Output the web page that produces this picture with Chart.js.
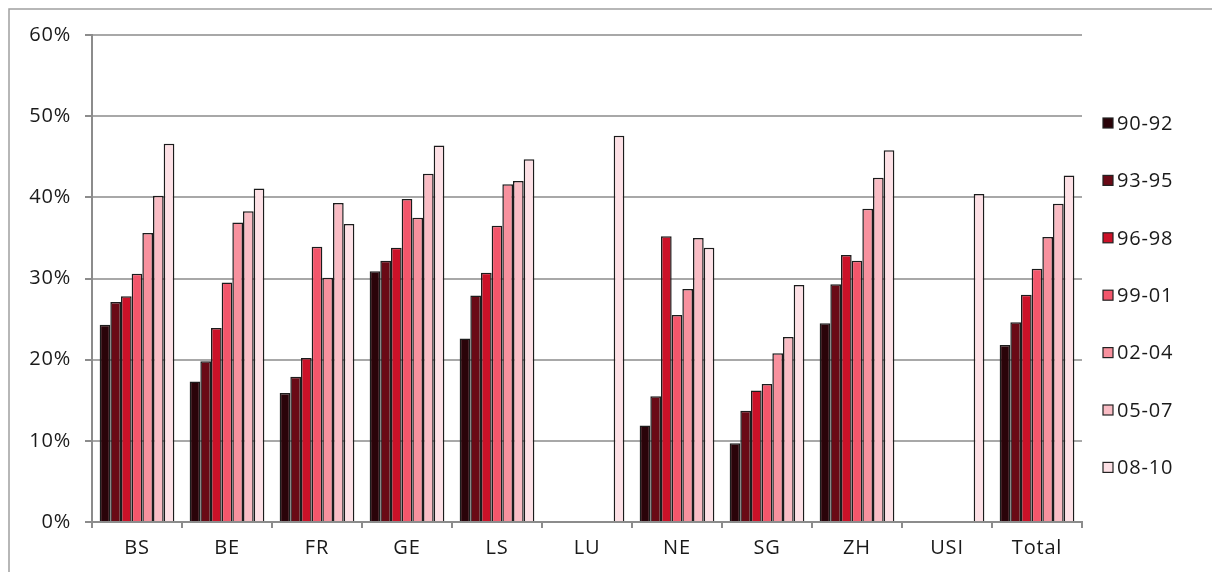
<!DOCTYPE html>
<html>
<head>
<meta charset="utf-8">
<script src="https://cdn.jsdelivr.net/npm/chart.js@4/dist/chart.umd.min.js"></script>
<style>
  html, body { margin: 0; padding: 0; background: #fff; }
</style>
</head>
<body>
<canvas id="myChart" width="1212" height="572"></canvas>
<script>
let labels = ['BS', 'BE', 'FR', 'GE', 'LS', 'LU', 'NE', 'SG', 'ZH', 'USI', 'Total'];
let periods = ['90-92', '93-95', '96-98', '99-01', '02-04', '05-07', '08-10'];
let yTicks = [0, 10, 20, 30, 40, 50, 60];

// share in percent, null = no value
let p9092 = [24.3, 17.3, 15.9, 30.9, 22.6, null, 11.9, 9.7, 24.5, null, 21.8];
let p9395 = [27.1, 19.8, 17.9, 32.2, 27.9, null, 15.5, 13.7, 29.3, null, 24.6];
let p9698 = [27.8, 23.9, 20.2, 33.8, 30.7, null, 35.2, 16.2, 32.9, null, 28.0];
let p9901 = [30.6, 29.5, 33.9, 39.8, 36.5, null, 25.5, 17.0, 32.2, null, 31.2];
let p0204 = [35.6, 36.9, 30.1, 37.5, 41.6, null, 28.7, 20.8, 38.6, null, 35.1];
let p0507 = [40.2, 38.3, 39.3, 42.9, 42.0, null, 35.0, 22.8, 42.4, null, 39.2];
let p0810 = [46.6, 41.1, 36.7, 46.4, 44.7, 47.6, 33.8, 29.2, 45.8, 40.4, 42.7];

let series = [p9092, p9395, p9698, p9901, p0204, p0507, p0810];
let colors = ['#2a0309', '#6a0a16', '#cc1128', '#f2566b', '#f8919e', '#f9bcc4', '#fde0e5'];

let datasets = series.map(function (d, i) {
  return {
    label: periods[i],
    data: d,
    backgroundColor: colors[i],
    borderColor: '#1c1c1c',
    borderWidth: 1.5,
    categoryPercentage: 0.83,
    barPercentage: 1.0
  };
});

const frame = {
  id: 'frame',
  beforeDraw(chart) {
    const ctx = chart.ctx;
    ctx.letterSpacing = '0.8px';
    ctx.save();
    ctx.strokeStyle = '#a0a0a0';
    ctx.lineWidth = 1.5;
    ctx.strokeRect(9, 9, 1400, 800);
    ctx.restore();
  }
};

const sideLegend = {
  id: 'sideLegend',
  afterDraw(chart) {
    const ctx = chart.ctx;
    const x = chart.chartArea.right + 21;
    ctx.save();
    ctx.font = '20px "Open Sans"';
    ctx.textBaseline = 'middle';
    chart.data.datasets.forEach(function (ds, i) {
      const y = 123 + i * 57.4;
      ctx.fillStyle = ds.backgroundColor;
      ctx.fillRect(x, y - 5, 10, 10);
      ctx.strokeStyle = '#222';
      ctx.lineWidth = 1.2;
      ctx.strokeRect(x, y - 5, 10, 10);
      ctx.fillStyle = '#1a1a1a';
      ctx.fillText(ds.label, x + 14, y + 1);
    });
    ctx.restore();
  }
};

let chart = new Chart(document.getElementById('myChart').getContext('2d'), {
  type: 'bar',
  data: { labels: labels, datasets: datasets },
  plugins: [frame, sideLegend],
  options: {
    responsive: false,
    animation: false,
    layout: { padding: { top: 35, right: 130, bottom: 0, left: 0 } },
    plugins: {
      legend: { display: false },
      tooltip: { enabled: false }
    },
    scales: {
      x: {
        afterFit: function (s) { s.height = 50; },
        border: { color: '#8c8c8c', width: 2 },
        grid: {
          offset: true,
          drawTicks: true,
          tickLength: 6,
          lineWidth: 2,
          color: function (c) { return c.index === labels.length ? '#8c8c8c' : 'rgba(0,0,0,0)'; },
          tickColor: '#8c8c8c'
        },
        ticks: { color: '#1a1a1a', padding: 8, font: { family: 'Open Sans', size: 20 } }
      },
      y: {
        min: 0,
        max: 60,
        afterFit: function (s) { s.width = 92; },
        afterBuildTicks: function (s) { s.ticks = yTicks.map(function (v) { return { value: v }; }); },
        border: { color: '#8c8c8c', width: 2 },
        grid: { color: '#a8a8a8', lineWidth: 2, tickLength: 7, tickColor: '#8c8c8c' },
        ticks: {
          color: '#1a1a1a',
          padding: 14,
          font: { family: 'Open Sans', size: 20 },
          callback: function (v) { return v + '%'; }
        }
      }
    }
  }
});
</script>
</body>
</html>
